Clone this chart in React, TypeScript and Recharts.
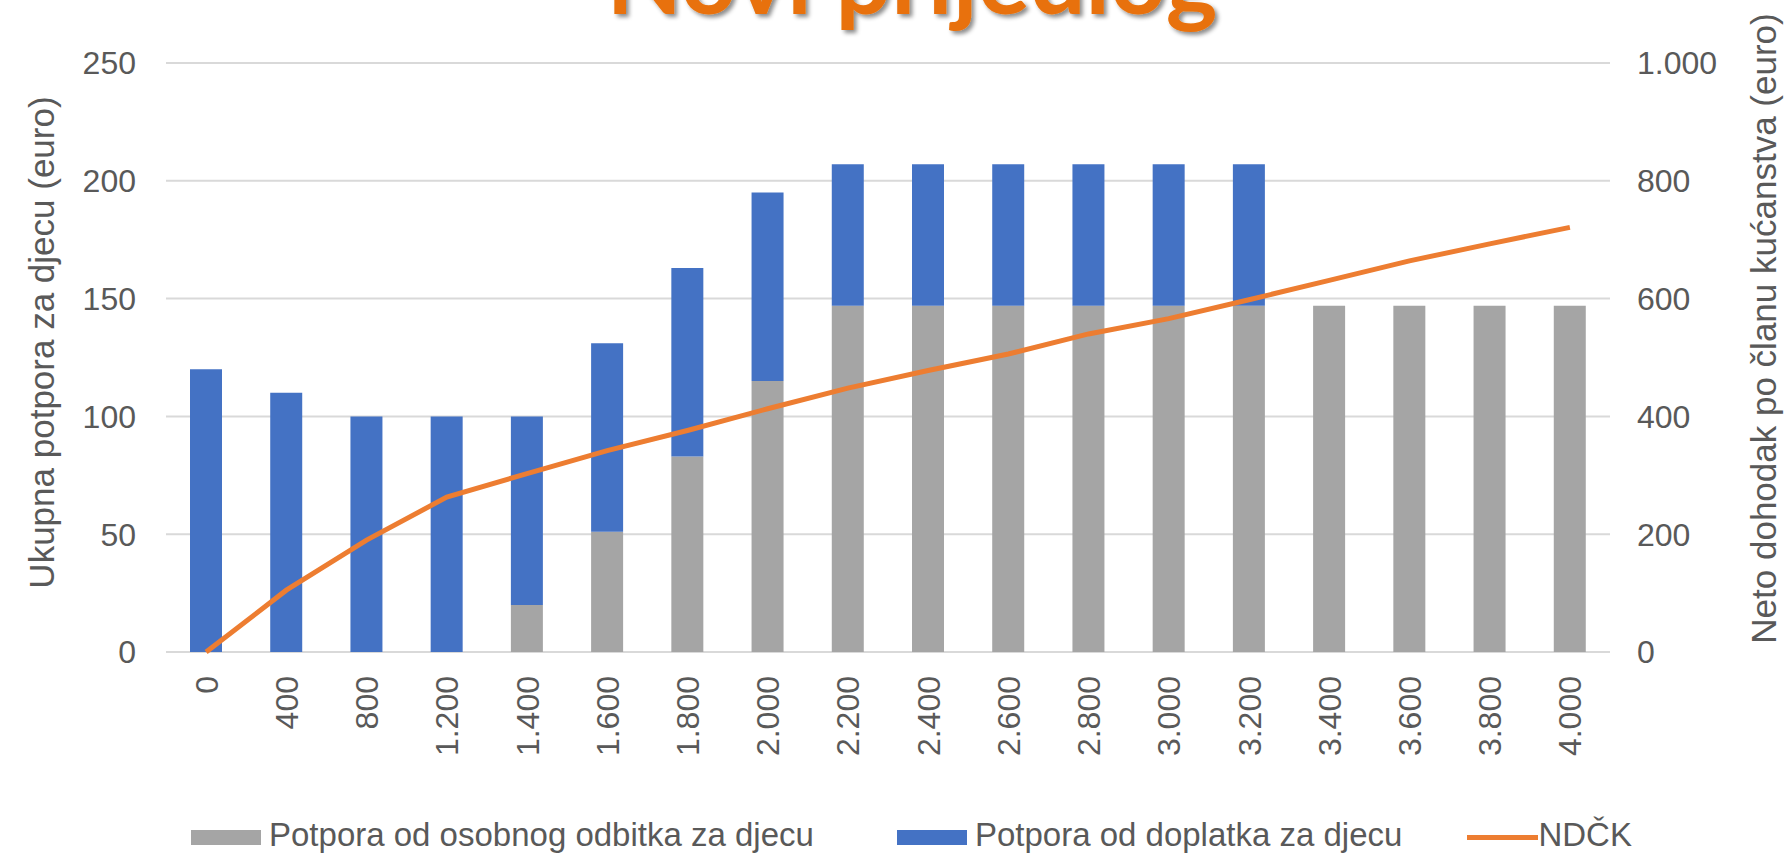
import React from 'react';
import {
  ComposedChart,
  Bar,
  Line,
  XAxis,
  YAxis,
  CartesianGrid,
  Legend,
} from 'recharts';

const incomeLabels = ['0', '400', '800', '1.200', '1.400', '1.600', '1.800', '2.000', '2.200', '2.400', '2.600', '2.800', '3.000', '3.200', '3.400', '3.600', '3.800', '4.000'];
const odbitak = [0, 0, 0, 0, 20, 51, 83, 115, 147, 147, 147, 147, 147, 147, 147, 147, 147, 147];
const doplatak = [120, 110, 100, 100, 80, 80, 80, 80, 60, 60, 60, 60, 60, 60, 0, 0, 0, 0];
const ndck = [0, 105, 190, 263, 303, 342, 376, 413, 448, 478, 506, 540, 566, 598, 631, 664, 693, 721];

const leftTicks = [0, 50, 100, 150, 200, 250];
const rightTicks = [0, 200, 400, 600, 800, 1000];

const data = incomeLabels.map((label, i) => ({
  label,
  odbitak: odbitak[i],
  doplatak: doplatak[i],
  ndck: ndck[i],
}));

const FONT = '"Liberation Sans", Arial, Helvetica, sans-serif';
const TEXT = '#595959';
const GREY = '#A5A5A5';
const BLUE = '#4472C4';
const ORANGE = '#ED7D31';

const fmtThousands = (v: number) => v.toLocaleString('de-DE');

const XTick = (props: any) => {
  const { x, y, payload } = props;
  return (
    <text
      x={x}
      y={y + 16}
      dy="0.36em"
      transform={`rotate(-90, ${x}, ${y + 16})`}
      textAnchor="end"
      fill={TEXT}
      fontSize={32}
      fontFamily={FONT}
    >
      {payload.value}
    </text>
  );
};

const LeftTitle = (props: any) => {
  const { viewBox } = props;
  const x = viewBox.x + 54;
  const y = viewBox.y + viewBox.height / 2 - 15;
  return (
    <text x={x} y={y} transform={`rotate(-90, ${x}, ${y})`} textAnchor="middle" fill={TEXT} fontSize={35} fontFamily={FONT}>
      Ukupna potpora za djecu (euro)
    </text>
  );
};

const RightTitle = (props: any) => {
  const { viewBox } = props;
  const x = viewBox.x + 166;
  const y = viewBox.y + viewBox.height / 2 - 29;
  return (
    <text x={x} y={y} transform={`rotate(-90, ${x}, ${y})`} textAnchor="middle" fill={TEXT} fontSize={35} fontFamily={FONT}>
      Neto dohodak po članu kućanstva (euro)
    </text>
  );
};

const legendItems = [
  { name: 'Potpora od osobnog odbitka za djecu', color: GREY, kind: 'box', gap: 83 },
  { name: 'Potpora od doplatka za djecu', color: BLUE, kind: 'box', gap: 65 },
  { name: 'NDČK', color: ORANGE, kind: 'line', gap: 0 },
];

const renderLegend = () => (
  <div style={{ display: 'flex', alignItems: 'center', paddingLeft: 191, fontFamily: FONT, fontSize: 33, color: TEXT, lineHeight: '33px' }}>
    {legendItems.map((it) => (
      <div key={it.name} style={{ display: 'flex', alignItems: 'center', marginRight: it.gap }}>
        <span
          style={{
            display: 'inline-block',
            width: it.kind === 'box' ? 70 : 71,
            height: it.kind === 'box' ? 15 : 5,
            background: it.color,
            marginRight: it.kind === 'box' ? 8 : 0,
            transform: 'translateY(3px)',
          }}
        />
        <span>{it.name}</span>
      </div>
    ))}
  </div>
);

export default function App() {
  return (
    <div style={{ position: 'absolute', left: 0, top: 0, width: 1791, height: 854, background: '#ffffff', overflow: 'hidden' }}>
      <svg width={1791} height={60} style={{ position: 'absolute', left: 0, top: 0, zIndex: 2 }}>
        <defs>
          <filter id="titleShadow" x="-10%" y="-50%" width="120%" height="200%">
            <feDropShadow dx="3" dy="3" stdDeviation="2" floodColor="#000000" floodOpacity="0.45" />
          </filter>
        </defs>
        <text
          x={912}
          y={14}
          textAnchor="middle"
          fill="#E8710A"
          fontSize={98}
          fontWeight={700}
          fontFamily="Lato, 'Open Sans', sans-serif"
          filter="url(#titleShadow)"
        >
          Novi prijedlog
        </text>
      </svg>
      <ComposedChart
        width={1791}
        height={854}
        data={data}
        margin={{ top: 63, right: 0, bottom: 102, left: 0 }}
        barCategoryGap={0}
      >
        <CartesianGrid yAxisId="left" vertical={false} stroke="#D9D9D9" strokeWidth={2} />
        <XAxis
          dataKey="label"
          height={100}
          axisLine={false}
          tickLine={false}
          interval={0}
          tick={<XTick />}
        />
        <YAxis
          yAxisId="left"
          width={166}
          domain={[0, 250]}
          ticks={leftTicks}
          axisLine={false}
          tickLine={false}
          tickMargin={24}
          tick={{ fill: TEXT, fontSize: 32, fontFamily: FONT }}
          label={<LeftTitle />}
        />
        <YAxis
          yAxisId="right"
          orientation="right"
          width={181}
          domain={[0, 1000]}
          ticks={rightTicks}
          axisLine={false}
          tickLine={false}
          tickMargin={21}
          tickFormatter={fmtThousands}
          tick={{ fill: TEXT, fontSize: 32, fontFamily: FONT, textAnchor: 'start' }}
          label={<RightTitle />}
        />
        <Legend
          layout="horizontal"
          verticalAlign="middle"
          align="center"
          content={renderLegend}
          wrapperStyle={{ left: 0, top: 818, width: 1791 }}
        />
        <Bar yAxisId="left" dataKey="odbitak" name="Potpora od osobnog odbitka za djecu" stackId="a" fill={GREY} barSize={32} isAnimationActive={false} />
        <Bar yAxisId="left" dataKey="doplatak" name="Potpora od doplatka za djecu" stackId="a" fill={BLUE} barSize={32} isAnimationActive={false} />
        <Line yAxisId="right" dataKey="ndck" name="NDČK" type="linear" stroke={ORANGE} strokeWidth={5} dot={false} isAnimationActive={false} />
      </ComposedChart>
    </div>
  );
}
